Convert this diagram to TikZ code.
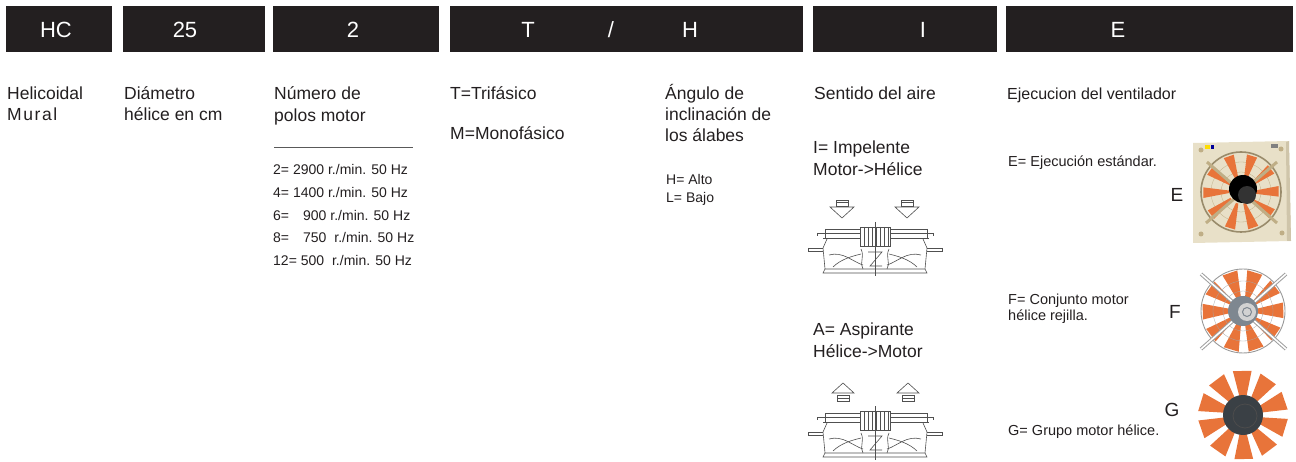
\documentclass[tikz,border=0pt]{standalone}
\usepackage{fontspec}
\setmainfont{Liberation Sans}
\definecolor{barc}{HTML}{231F20}
\definecolor{txtc}{HTML}{231F20}
\definecolor{skc}{HTML}{505050}
\definecolor{blade}{HTML}{E8743A}
\definecolor{panel}{HTML}{E8E0C8}
\definecolor{panelsh}{HTML}{CFC5AA}
\definecolor{tanbar}{HTML}{BFAE86}
\definecolor{motorF}{HTML}{7E8790}
\definecolor{motorG}{HTML}{3A4045}
\begin{document}
\begin{tikzpicture}[x=1pt,y=-1pt,
  bartxt/.style={text=white,font=\fontsize{22}{22}\selectfont,anchor=base,inner sep=0pt},
  lab/.style={text=txtc,font=\fontsize{17.5}{20}\selectfont,anchor=base west,inner sep=0pt},
  head/.style={text=txtc,font=\fontsize{16}{18}\selectfont,anchor=base west,inner sep=0pt},
  rpm/.style={text=txtc,font=\fontsize{14}{16}\selectfont,anchor=base west,inner sep=0pt},
  note/.style={text=txtc,font=\fontsize{14.5}{16}\selectfont,anchor=base west,inner sep=0pt},
  big/.style={text=txtc,font=\fontsize{19}{20}\selectfont,anchor=center,inner sep=0pt},
  sk/.style={draw=skc,line width=0.6pt},
  downarr/.pic={
    \draw[sk,fill=white] (-12,7) -- (12,7) -- (0,18) -- cycle;
    \draw[sk,fill=white] (-6,0) rectangle (6,6);
    \draw[sk] (-6,2.5) -- (6,2.5);
  },
  uparr/.pic={
    \draw[sk,fill=white] (-11,10) -- (0,0) -- (11,10) -- cycle;
    \draw[sk,fill=white] (-6,12) rectangle (6,18);
    \draw[sk] (-6,15) -- (6,15);
  },
  fansk/.pic={
    \draw[sk] (-50,0) -- (52,0);
    \draw[sk] (-58,4) -- (58,4);
    \draw[sk] (-52,9) -- (54,9);
    \draw[sk] (-50,0) -- (-50,9) (52,0) -- (52,9);
    \draw[sk] (-58,4) -- (-58,7) (58,4) -- (58,7);
    \draw[sk] (-67,19) -- (-52,19) (52,19) -- (67,19);
    \draw[sk] (-67,19) -- (-67,22) -- (-52,22) (67,19) -- (67,22) -- (52,22);
    \draw[sk] (-48,10) -- (-52,19) -- (-50,40) -- (50,40) -- (52,19) -- (48,10);
    \draw[sk] (-50,40) -- (-52,44) -- (52,44) -- (50,40);
    \draw[sk] (-46,26) .. controls (-32,22) and (-22,33) .. (-12,36);
    \draw[sk] (46,26) .. controls (32,22) and (22,33) .. (12,36);
    \draw[sk] (-42,38) .. controls (-34,30) and (-22,27) .. (-14,25);
    \draw[sk] (42,38) .. controls (34,30) and (22,27) .. (14,25);
    \draw[sk] (-14,20) .. controls (-10,28) and (-16,34) .. (-12,40);
    \draw[sk] (14,20) .. controls (10,28) and (16,34) .. (12,40);
    \draw[sk,fill=white] (-15,-2) rectangle (15,17);
    \foreach \i in {-11,-7,-3,1,5,9,13} { \draw[sk] (\i,-2) -- (\i,17); }
    \draw[sk] (-7,23) -- (7,23) -- (-5,37) -- (7,37);
    \draw[draw=skc,line width=0.4pt] (0,-7) -- (0,47);
  }]
\useasboundingbox (0,0) rectangle (1296,462);

% ---------------- code bars ----------------
\fill[barc] (6,6) rectangle (112,52);
\fill[barc] (123,6) rectangle (265,52);
\fill[barc] (273,6) rectangle (439,52);
\fill[barc] (450,6) rectangle (803,52);
\fill[barc] (813,6) rectangle (997,52);
\fill[barc] (1006,6) rectangle (1293,52);
\node[bartxt] (cHC) at (56,37.5) {HC};
\node[bartxt] (c25) at (185,37.5) {25};
\node[bartxt] (c2) at (353,37.5) {2};
\node[bartxt] (cT) at (528,37.5) {T};
\node[bartxt] (cSl) at (611,37.5) {/};
\node[bartxt] (cH) at (690,37.5) {H};
\node[bartxt] (cI) at (923,37.5) {I};
\node[bartxt] (cE) at (1118,37.5) {E};

% ---------------- column texts ----------------
\node[lab] (hel1) at (7,100) {Helicoidal};
\node[lab] (hel2) at (7,121) {\addfontfeature{LetterSpace=9}Mural};
\node[lab] (dia1) at (124,100) {Diámetro};
\node[lab] (dia2) at (124,121) {hélice en cm};
\node[lab] (num1) at (274,100) {Número de};
\node[lab] (num2) at (274,122) {polos motor};
\coordinate (lnA) at (274,148);
\coordinate (lnB) at (413,148);
\draw[black!65,line width=1pt] (lnA) -- (lnB);
\node[rpm] (r2) at (273,175) {2= 2900 r./min. 50 Hz};
\node[rpm] (r4) at (273,198) {4= 1400 r./min. 50 Hz};
\node[rpm] (r6) at (273,221) {6= \phantom{0}\,900 r./min. 50 Hz};
\node[rpm] (r8) at (273,243) {8= \phantom{0}\,750\hspace{4pt} r./min. 50 Hz};
\node[rpm] (r12) at (273,266) {12= 500\hspace{4pt} r./min. 50 Hz};

\node[lab] (tri) at (450,100) {T=Trifásico};
\node[lab] (mono) at (450,140) {M=Monofásico};

\node[lab] (ang1) at (665,100) {Ángulo de};
\node[lab] (ang2) at (665,121) {inclinación de};
\node[lab] (ang3) at (665,142) {los álabes};
\node[rpm] (alto) at (666,185) {H= Alto};
\node[rpm] (bajo) at (666,203) {L= Bajo};

\node[lab] (sent) at (814,100) {Sentido del aire};
\node[lab] (imp1) at (813,154) {I= Impelente};
\node[lab] (imp2) at (813,176) {Motor->Hélice};
\node[lab] (asp1) at (813,336) {A= Aspirante};
\node[lab] (asp2) at (813,357) {Hélice->Motor};

\node[head] (ejec) at (1007,100) {Ejecucion del ventilador};
\node[note] (eE) at (1008,167) {E= Ejecución estándar.};
\node[note] (eF1) at (1008,305) {F= Conjunto motor};
\node[note] (eF2) at (1008,321) {hélice rejilla.};
\node[note] (eG) at (1008,435) {G= Grupo motor hélice.};
\node[big] (lE) at (1177,195) {E};
\node[big] (lF) at (1175,312) {F};
\node[big] (lG) at (1172,410) {G};

% ---------------- air direction sketches ----------------
\pic at (842,200) {downarr};
\pic at (907,200) {downarr};
\pic at (875,229) {fansk};
\pic at (843,383) {uparr};
\pic at (908,383) {uparr};
\pic at (875,413) {fansk};

% ---------------- fan E (framed) ----------------
\begin{scope}[shift={(1241,192)}]
  \fill[panel] (-48,-49) -- (48,-51) -- (50,49) -- (-48,51) -- cycle;
  \fill[panelsh] (48,-51) -- (50,49) -- (46,49) -- (45,-50) -- cycle;
  \foreach \p in {(-40,-42),(40,-43),(-40,42),(41,41)} { \fill[tanbar] \p circle (2.5); }
  \fill[yellow!80!orange] (-36,-47) rectangle (-31,-43);
  \fill[blue!60!black] (-30,-47) rectangle (-27,-43);
  \fill[gray] (30,-48) rectangle (37,-44);
  \draw[tanbar,line width=0.3pt] (0,0) circle (30) (0,0) circle (20);
  \foreach \a in {0,36,...,324} {
    \fill[blade] (\a-5:12) -- (\a-9:38) -- (\a+7:38) -- (\a+7:12) -- cycle;
  }
  \draw[tanbar!80!black,line width=1.6pt] (0,0) circle (40);
  \draw[tanbar,line width=3pt] (-34,-30) -- (36,31);
  \draw[tanbar,line width=3pt] (-35,31) -- (36,-30);
  \fill[black] (2,-3) circle (14);
  \fill[black!80] (6,3) circle (9);
\end{scope}

% ---------------- fan F (grille) ----------------
\begin{scope}[shift={(1243,311)}]
  \foreach \a in {0,36,...,324} {
    \fill[blade] (\a-8:10) -- (\a-12:41) -- (\a+10:41) -- (\a+9:10) -- cycle;
  }
  \draw[gray!70,line width=0.3pt] (0,0) circle (30) (0,0) circle (20);
  \draw[gray!80,line width=0.9pt] (0,0) circle (42);
  \draw[gray!75,line width=3.6pt] (-42,-37) -- (43,38);
  \draw[white,line width=1.6pt] (-42,-37) -- (43,38);
  \draw[gray!75,line width=3.6pt] (-42,38) -- (43,-37);
  \draw[white,line width=1.6pt] (-42,38) -- (43,-37);
  \fill[motorF] (0,0) circle (15);
  \fill[gray!35] (4,1) circle (9);
  \draw[motorF,line width=1pt] (4,1) circle (4.5);
\end{scope}

% ---------------- fan G (motor + propeller) ----------------
\begin{scope}[shift={(1243,415)}]
  \foreach \a in {18,54,...,342} {
    \fill[blade] (\a-9:12) -- (\a-13:45) -- (\a+11:45) -- (\a+10:12) -- cycle;
  }
  \fill[motorG] (0,0) circle (20);
  \draw[black!70,line width=0.8pt] (2,1) circle (12);
\end{scope}
\end{tikzpicture}
\end{document}
